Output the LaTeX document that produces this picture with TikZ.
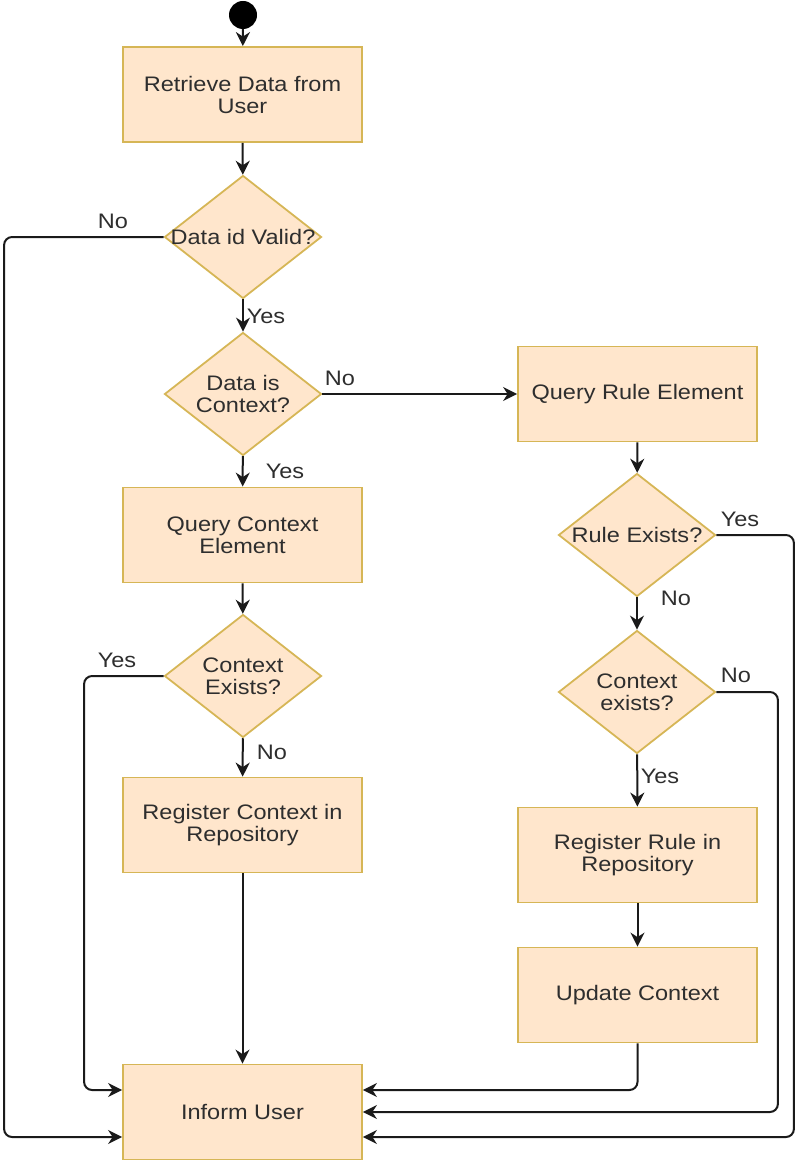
\documentclass[tikz,border=0pt]{standalone}
\usepackage{fontspec}
\setmainfont{Liberation Sans}[FakeStretch=1.12]
\usetikzlibrary{shapes.geometric,arrows.meta,calc}
\definecolor{boxfill}{HTML}{FFE6CC}
\definecolor{boxline}{HTML}{D6B656}
\definecolor{txtcol}{HTML}{2E2E2E}
\definecolor{wirecol}{HTML}{1A1A1A}
\begin{document}
\begin{tikzpicture}[x=1pt,y=-1pt,
  every node/.style={font=\fontsize{21}{22}\selectfont, text=txtcol},
  stepbox/.style={draw=boxline, fill=boxfill, line width=1.8pt,
    minimum width=239pt, minimum height=95pt, align=center, inner sep=0pt},
  decision/.style={diamond, draw=boxline, fill=boxfill, line width=1.8pt,
    minimum width=157pt, minimum height=123pt, inner sep=0pt},
  dtext/.style={align=center, inner sep=0pt},
  lbl/.style={inner sep=0pt},
  wire/.style={draw=wirecol, line width=2pt, rounded corners=8pt,
    -{Stealth[length=14pt,width=14pt,inset=4.5pt]}}
]
\useasboundingbox (0,0) rectangle (795,1161);

% start marker
\node[circle, fill=black, minimum size=28pt, inner sep=0pt] (start) at (243,15) {};

% left column
\node[stepbox] (b1) at (242.5,94.5) {Retrieve Data from\\User};
\node[decision] (d1) at (243,237) {};
\node[dtext] (d1t) at (d1) {Data id Valid?};
\node[decision] (d2) at (243,394) {};
\node[dtext] (d2t) at (d2) {Data is\\Context?};
\node[stepbox] (qc) at (242.5,535) {Query Context\\Element};
\node[decision] (d3) at (243,676) {};
\node[dtext] (d3t) at (d3) {Context\\Exists?};
\node[stepbox] (rc) at (242.5,825) {Register Context in\\Repository};
\node[stepbox] (inf) at (242.5,1112) {Inform User};

% right column
\node[stepbox] (qr) at (637.5,394) {Query Rule Element};
\node[decision] (d4) at (637,535) {};
\node[dtext] (d4t) at (d4) {Rule Exists?};
\node[decision] (d5) at (637,692) {};
\node[dtext] (d5t) at (d5) {Context\\exists?};
\node[stepbox] (rr) at (637.5,855) {Register Rule in\\Repository};
\node[stepbox] (uc) at (637.5,995) {Update Context};

% straight flow
\draw[wire] (start) -- (b1);
\draw[wire] (b1) -- (d1);
\draw[wire] (d1) -- (d2);
\draw[wire] (d2) -- (qc);
\draw[wire] (d2.east) -- (qr.west);
\draw[wire] (qc) -- (d3);
\draw[wire] (d3) -- (rc);
\draw[wire] (rc) -- (inf);
\draw[wire] (qr) -- (d4);
\draw[wire] (d4) -- (d5);
\draw[wire] (d5) -- (rr);
\draw[wire] (rr) -- (uc);

% returns to Inform User
\draw[wire] (d1.west) -| ($(inf.west)+(-118,25)$) -- ($(inf.west)+(0,25)$);
\draw[wire] (d3.west) -| ($(inf.west)+(-38,-22)$) -- ($(inf.west)+(0,-22)$);
\draw[wire] (uc.south) |- ($(inf.east)+(0,-22)$);
\draw[wire] (d5.east) -| ($(inf.east)+(415,0)$) -- (inf.east);
\draw[wire] (d4.east) -| ($(inf.east)+(431,25)$) -- ($(inf.east)+(0,25)$);

% branch labels
\node[lbl] (n1) at (113,221) {No};
\node[lbl] (y1) at (266,316) {Yes};
\node[lbl] (n2) at (340,378) {No};
\node[lbl] (y2) at (285,471) {Yes};
\node[lbl] (y3) at (117,660) {Yes};
\node[lbl] (n3) at (272,752) {No};
\node[lbl] (y4) at (740,519) {Yes};
\node[lbl] (n4) at (676,598) {No};
\node[lbl] (n5) at (736,675) {No};
\node[lbl] (y5) at (660,776) {Yes};
\end{tikzpicture}
\end{document}
